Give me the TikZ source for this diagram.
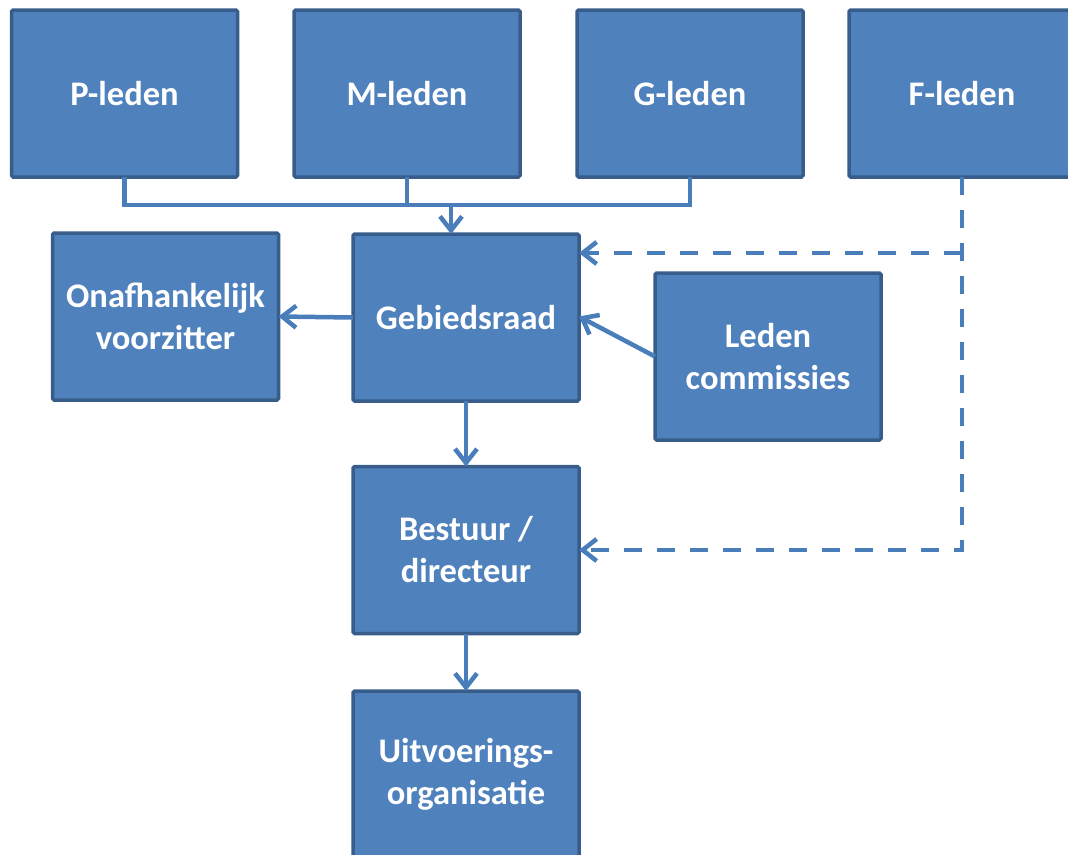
\documentclass[tikz,border=0pt]{standalone}
\usepackage{fontspec}
\setmainfont{Carlito}
\usetikzlibrary{arrows.meta}
\definecolor{boxfill}{HTML}{4F81BD}
\definecolor{boxline}{HTML}{385D8A}
\definecolor{conn}{HTML}{4A7EBB}
\begin{document}
\begin{tikzpicture}[x=1pt,y=-1pt,
  orgbox/.style={draw=boxline, fill=boxfill, line width=3.5pt, rounded corners=1.5pt,
    minimum width=226pt, minimum height=167pt, inner sep=0pt, outer sep=0pt,
    text=white, align=center, font=\fontsize{34.5}{42}\selectfont\bfseries},
  link/.style={draw=conn, line width=4.5pt},
  tip/.style={-{Straight Barb[length=14pt,width=22pt,line width=4.5pt]}},
  dashlink/.style={link, dash pattern=on 18pt off 15pt}
]
\useasboundingbox (0,0) rectangle (1068,854);
\node[orgbox] (P) at (124.5,93.5) {P-leden};
\node[orgbox] (M) at (407,93.5) {M-leden};
\node[orgbox] (G) at (690,93.5) {G-leden};
\node[orgbox] (F) at (962,93.5) {F-leden};
\node[orgbox] (O) at (165.5,316.5) {Onafhankelijk\\voorzitter};
\node[orgbox] (Geb) at (466,317.5) {Gebiedsraad};
\node[orgbox] (L) at (768,356.5) {Leden\\commissies};
\node[orgbox] (B) at (466,550) {Bestuur /\\directeur};
\node[orgbox] (U) at (466,774.5) {Uitvoerings-\\organisatie};
\coordinate (bus) at (451,205);
\coordinate (f1) at (962,253);
\draw[link] (P.south) |- (bus) -| (G.south);
\draw[link] (M.south) -- (M.south |- bus);
\draw[link,tip] (bus) -- (bus |- Geb.north);
\draw[link,tip] (Geb.west) -- (O.east);
\draw[link,tip] (L.west) -- ([yshift=1pt]Geb.east);
\draw[link,tip] (Geb.south) -- (B.north);
\draw[link,tip] (B.south) -- (U.north);
\draw[dashlink,tip] (F.south) |- (B.east);
\draw[dashlink,tip] (f1) -- (Geb.east |- f1);
\end{tikzpicture}
\end{document}
